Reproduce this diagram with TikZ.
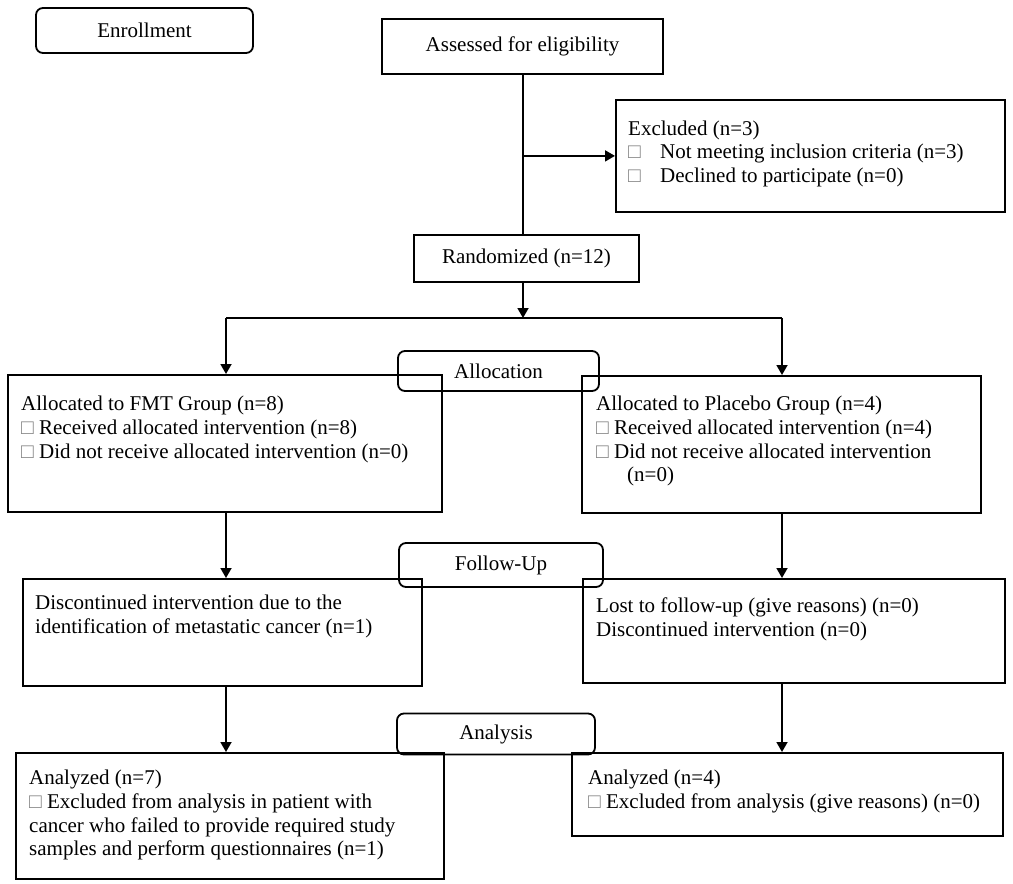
\documentclass[tikz,border=0pt]{standalone}
\usepackage{fontspec}
\setmainfont{Liberation Serif}
\usetikzlibrary{arrows.meta,positioning}

\tikzset{
    box/.style = {draw, line width=1.8pt, inner sep=0pt, anchor=north west},
    cbox/.style = {draw, line width=1.8pt, inner sep=0pt, font=\fontsize{21}{24}\selectfont},
    tag/.style = {cbox, rounded corners=7pt},
    txt/.style = {inner sep=0pt, anchor=north west, align=left, font=\fontsize{21}{23.7}\selectfont},
    arr/.style = {line width=1.8pt, -{Triangle[length=10pt,width=11pt]}},
    ln/.style = {line width=1.8pt},
}
\newcommand{\sq}{{\color{gray}□}}

\begin{document}
\begin{tikzpicture}[x=1pt, y=-1pt]
    \useasboundingbox (0,0) rectangle (1013,884);

    % stage tags
    \node[tag, minimum width=217pt, minimum height=45pt] (enroll) at (144.5,30.5) {Enrollment};

    % enrollment
    \node[cbox, minimum width=281pt, minimum height=55pt] (assess) at (522.5,46.5) {Assessed for eligibility};
    \node[box, minimum width=389pt, minimum height=112pt] (excl) at (615,99) {};
    \node[txt] (excltxt) at (628,120.5) {Excluded (n=3)\\
        \makebox[32pt][l]{\sq}Not meeting inclusion criteria (n=3)\\
        \makebox[32pt][l]{\sq}Declined to participate (n=0)};
    \node[cbox, minimum width=225pt, minimum height=47pt] (rand) at (526.5,258.5) {Randomized (n=12)};

    % allocation
    \node[box, minimum width=434pt, minimum height=137pt] (fmt) at (7,374) {};
    \node[txt] (fmttxt) at (21,396) {Allocated to FMT Group (n=8)\\
        \sq{} Received allocated intervention (n=8)\\
        \sq{} Did not receive allocated intervention (n=0)};
    \node[box, minimum width=399pt, minimum height=137pt] (plc) at (581,375) {};
    \node[txt] (plctxt) at (596,396) {Allocated to Placebo Group (n=4)\\
        \sq{} Received allocated intervention (n=4)\\
        \sq{} Did not receive allocated intervention\\
        \hspace{31pt}(n=0)};
    \node[tag, minimum width=201pt, minimum height=40pt] (alloc) at (498.5,371) {Allocation};

    % follow-up
    \node[box, minimum width=399pt, minimum height=107pt] (fu1) at (22,578) {};
    \node[txt] (fu1txt) at (35,595) {Discontinued intervention due to the\\
        identification of metastatic cancer (n=1)};
    \node[box, minimum width=422pt, minimum height=104pt] (fu2) at (582,578) {};
    \node[txt] (fu2txt) at (596,598) {Lost to follow-up (give reasons) (n=0)\\
        Discontinued intervention (n=0)};
    \node[tag, minimum width=204pt, minimum height=44pt] (follow) at (501,565) {Follow-Up};

    % analysis
    \node[box, minimum width=428pt, minimum height=126pt] (an1) at (15,752) {};
    \node[txt] (an1txt) at (29,770) {Analyzed (n=7)\\
        \sq{} Excluded from analysis in patient with\\
        cancer who failed to provide required study\\
        samples and perform questionnaires (n=1)};
    \node[box, minimum width=431pt, minimum height=83pt] (an2) at (571,752) {};
    \node[txt] (an2txt) at (588,770) {Analyzed (n=4)\\
        \sq{} Excluded from analysis (give reasons) (n=0)};
    \node[tag, minimum width=198pt, minimum height=41pt] (analysis) at (496,734) {Analysis};

    % connectors
    \coordinate (split) at (523,318);
    \coordinate (branch) at (split |- excl.west);
    \coordinate (fmtx) at (226,318);
    \coordinate (plcx) at (782,318);
    \draw[ln] (assess.south -| split) -- (rand.north -| split);
    \draw[arr] (branch) -- (excl.west);
    \draw[arr] (rand.south -| split) -- (split);
    \draw[ln] (fmtx) -- (plcx);
    \draw[arr] (fmtx) -- (fmtx |- fmt.north);
    \draw[arr] (plcx) -- (plcx |- plc.north);
    \draw[arr] (fmtx |- fmt.south) -- (fmtx |- fu1.north);
    \draw[arr] (plcx |- plc.south) -- (plcx |- fu2.north);
    \draw[arr] (fmtx |- fu1.south) -- (fmtx |- an1.north);
    \draw[arr] (plcx |- fu2.south) -- (plcx |- an2.north);
\end{tikzpicture}
\end{document}
